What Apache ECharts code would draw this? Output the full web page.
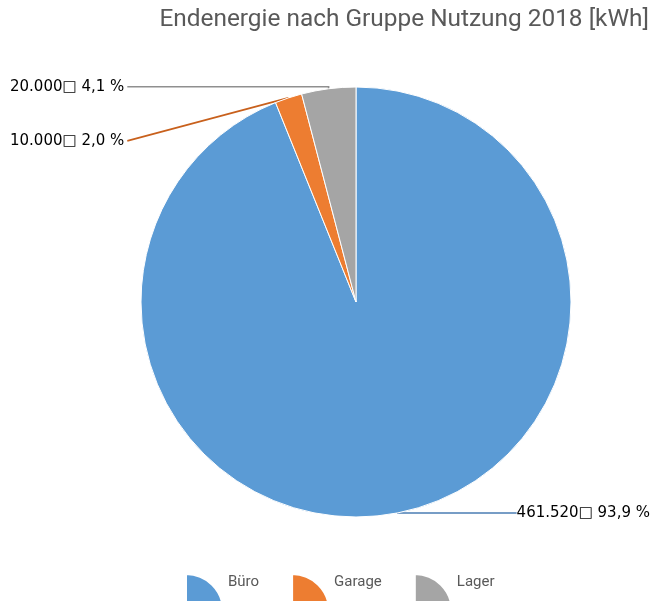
<!DOCTYPE html>
<html>
<head>
<meta charset="utf-8">
<script src="https://cdn.jsdelivr.net/npm/echarts@6/dist/echarts.min.js"></script>
<style>
  html, body { margin: 0; padding: 0; background: #fff; }
  #main { width: 654px; height: 601px; }
</style>
</head>
<body>
<div id="main"></div>
<script>
var categories = ['Büro', 'Garage', 'Lager'];
var values = [461520, 10000, 20000];
var colors = ['#5B9BD5', '#ED7D31', '#A5A5A5'];
var lineColors = ['#4A7DB3', '#C8601C', '#8F8F8F'];

var chart = echarts.init(document.getElementById('main'));
var total = values.reduce(function (a, b) { return a + b; }, 0);

function fmtNum(v) {
    return String(v).replace(/\B(?=(\d{3})+(?!\d))/g, '.');
}

var option = {
    backgroundColor: '#ffffff',
    title: {
        text: 'Endenergie nach Gruppe Nutzung 2018 [kWh]',
        right: 5,
        top: 8,
        padding: 0,
        textStyle: {
            fontFamily: 'Roboto',
            fontSize: 24.4,
            fontWeight: 'normal',
            color: '#595959'
        }
    },
    legend: {
        left: 185,
        top: 573,
        padding: 0,
        itemGap: 32,
        itemWidth: 37,
        itemHeight: 37,
        icon: 'path://M0,0A1,1,0,0,1,1,1L0,1Z',
        data: categories,
        formatter: '{t|{name}}',
        textStyle: {
            fontFamily: 'Roboto',
            fontSize: 15,
            color: '#595959',
            rich: {
                t: {
                    fontFamily: 'Roboto',
                    fontSize: 15,
                    color: '#595959',
                    padding: [0, 0, 20, 0]
                }
            }
        }
    },
    color: colors,
    series: [
        {
            type: 'pie',
            center: [356, 302],
            radius: 215,
            startAngle: 90,
            clockwise: true,
            avoidLabelOverlap: false,
            itemStyle: { borderColor: '#ffffff', borderWidth: 1 },
            label: {
                show: true,
                position: 'outside',
                fontFamily: 'DejaVu Sans',
                fontSize: 15,
                color: '#000000',
                formatter: function (p) {
                    var pct = (p.value / total * 100).toFixed(1).replace('.', ',');
                    return fmtNum(p.value) + '\u25A1 ' + pct + ' %';
                }
            },
            labelLine: { show: true, length: 3, length2: 20, lineStyle: { width: 1.6 } },
            labelLayout: function (p) {
                var a = p.labelLinePoints[0];
                var w = p.labelRect.width;
                var y, x, end;
                if (p.dataIndex === 0) {
                    x = chart.getWidth() - 4;
                    y = a[1];
                    end = x - w;
                    return { x: x, y: y, align: 'right', verticalAlign: 'middle',
                        labelLinePoints: [a, [end, y]] };
                }
                x = 10;
                end = x + w + 3;
                if (p.dataIndex === 2) {
                    y = a[1] - 2;
                    return { x: x, y: y, align: 'left', verticalAlign: 'middle',
                        labelLinePoints: [a, [a[0], y], [end, y]] };
                }
                y = a[1] + 43;
                return { x: x, y: y, align: 'left', verticalAlign: 'middle',
                    labelLinePoints: [a, [end, y]] };
            },
            data: categories.map(function (c, i) {
                return { name: c, value: values[i], labelLine: { lineStyle: { color: lineColors[i] } } };
            })
        }
    ]
};

chart.setOption(option);
</script>
</body>
</html>
